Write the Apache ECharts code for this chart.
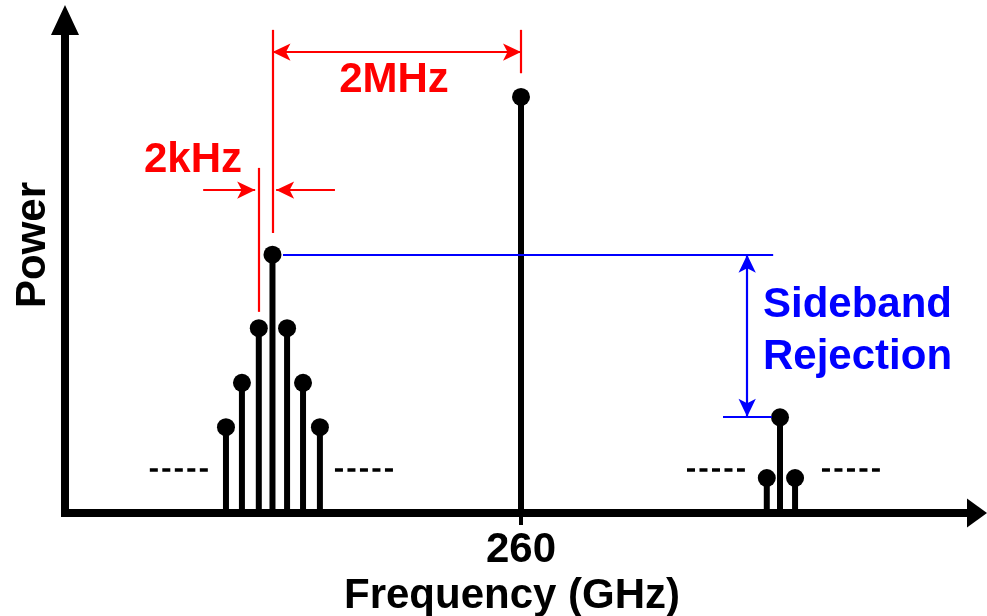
<!DOCTYPE html>
<html>
<head>
<meta charset="utf-8">
<script src="https://cdn.jsdelivr.net/npm/echarts@6/dist/echarts.min.js"></script>
<style>
html,body{margin:0;padding:0;background:#fff}
#main{width:987px;height:616px}
</style>
</head>
<body>
<div id="main"></div>
<script>
// 频谱数据(横轴单位 GHz, 纵轴为相对功率)
var sidebandFreq = [253.53, 253.88, 254.25, 254.55, 254.87, 255.22, 255.59];
var sidebandPower = [17.4, 26.4, 37.5, 52.4, 37.5, 26.4, 17.4];
var carrierFreq = [260];
var carrierPower = [84.4];
var imageFreq = [265.39, 265.68, 266.01];
var imagePower = [7.1, 19.4, 7.1];
var freqTicks = [260];
// 省略号虚线
var dashLevel = 8.7;
var dashSpans = [[251.86, 253.14], [255.92, 257.24], [263.64, 264.91], [266.60, 267.87]];
// 标注线(数据坐标)
var redLines = [
    [[254.55, 98.0], [254.55, 56.8]],
    [[260, 98.0], [260, 89.2]],
    [[254.25, 70.0], [254.25, 40.8]]
];
var mhzArrow = [[254.55, 93.5], [260, 93.5]];
var khzArrowL = [[253.03, 65.5], [254.17, 65.5]];
var khzArrowR = [[255.92, 65.5], [254.63, 65.5]];
var blueLines = [
    [[254.78, 52.4], [265.53, 52.4]],
    [[264.43, 19.5], [265.50, 19.5]]
];
var rejectArrow = [[264.96, 52.4], [264.96, 19.5]];

var FONT = '"Liberation Sans", Arial, sans-serif';

function pairs(xs, ys) {
    return xs.map(function (x, i) { return [x, ys[i]]; });
}
var stems = pairs(sidebandFreq, sidebandPower)
    .concat(pairs(carrierFreq, carrierPower))
    .concat(pairs(imageFreq, imagePower));

function end(c, sym) {
    return {coord: c, symbol: sym, symbolSize: [13, 18]};
}
function seg(p, s0, s1) {
    return [end(p[0], s0), end(p[1], s1)];
}

var redData = redLines.map(function (p) { return seg(p, 'none', 'none'); });
redData.push(seg(mhzArrow, 'arrow', 'arrow'));
redData.push(seg(khzArrowL, 'none', 'arrow'));
redData.push(seg(khzArrowR, 'none', 'arrow'));

var blueData = blueLines.map(function (p) { return seg(p, 'none', 'none'); });
blueData.push(seg(rejectArrow, 'arrow', 'arrow'));

var dashSeries = dashSpans.map(function (s) {
    return {
        type: 'line',
        data: [[s[0], dashLevel], [s[1], dashLevel]],
        showSymbol: false,
        silent: true,
        lineStyle: {color: '#000', width: 3.5, type: [8, 4.5]},
        z: 1
    };
});

function annot(color, data) {
    return {
        type: 'line',
        data: [],
        silent: true,
        markLine: {
            silent: true,
            animation: false,
            symbol: ['none', 'none'],
            label: {show: false},
            emphasis: {disabled: true},
            lineStyle: {color: color, width: 2.2, type: 'solid'},
            data: data
        }
    };
}

var myChart = echarts.init(document.getElementById('main'));

var option = {
    animation: false,
    grid: {left: 65, top: 20, right: 10, bottom: 103, containLabel: false, outerBoundsMode: 'none'},
    xAxis: {
        type: 'value',
        min: 250,
        max: 270,
        splitLine: {show: false},
        axisLine: {
            show: true,
            onZero: false,
            symbol: ['none', 'triangle'],
            symbolSize: [29, 20],
            lineStyle: {color: '#000', width: 8, cap: 'square'}
        },
        axisTick: {show: true, customValues: freqTicks, length: 12, lineStyle: {color: '#000', width: 4}},
        axisLabel: {
            customValues: freqTicks,
            color: '#000',
            fontSize: 42,
            fontWeight: 'bold',
            fontFamily: FONT,
            margin: 16
        },
        name: 'Frequency (GHz)',
        nameLocation: 'middle',
        nameGap: 53,
        nameTextStyle: {color: '#000', fontSize: 42, fontWeight: 'bold', fontFamily: FONT, padding: [0, 18, 0, 0]}
    },
    yAxis: {
        type: 'value',
        min: 0,
        max: 100,
        splitLine: {show: false},
        axisLine: {
            show: true,
            onZero: false,
            symbol: ['none', 'triangle'],
            symbolSize: [28, 30],
            lineStyle: {color: '#000', width: 8, cap: 'square'}
        },
        axisTick: {show: false},
        axisLabel: {show: false}
    },
    graphic: [
        {type: 'text', x: 33, y: 245, rotation: Math.PI / 2,
            style: {text: 'Power', fill: '#000', font: 'bold 42px ' + FONT, align: 'center', verticalAlign: 'middle'}},
        {type: 'text', x: 394, y: 80,
            style: {text: '2MHz', fill: '#ff0000', font: 'bold 42px ' + FONT, align: 'center', verticalAlign: 'middle'}},
        {type: 'text', x: 193, y: 160,
            style: {text: '2kHz', fill: '#ff0000', font: 'bold 42px ' + FONT, align: 'center', verticalAlign: 'middle'}},
        {type: 'text', x: 763, y: 305,
            style: {text: 'Sideband', fill: '#0000ff', font: 'bold 42px ' + FONT, align: 'left', verticalAlign: 'middle'}},
        {type: 'text', x: 763, y: 357,
            style: {text: 'Rejection', fill: '#0000ff', font: 'bold 42px ' + FONT, align: 'left', verticalAlign: 'middle'}}
    ],
    series: dashSeries.concat([
        {
            type: 'bar',
            data: stems,
            barWidth: 6,
            silent: true,
            itemStyle: {color: '#000'},
            z: 3
        },
        {
            type: 'scatter',
            data: stems,
            symbolSize: 18,
            silent: true,
            itemStyle: {color: '#000', opacity: 1},
            z: 4
        },
        annot('#ff0000', redData),
        annot('#0000ff', blueData)
    ])
};

myChart.setOption(option);
</script>
</body>
</html>
